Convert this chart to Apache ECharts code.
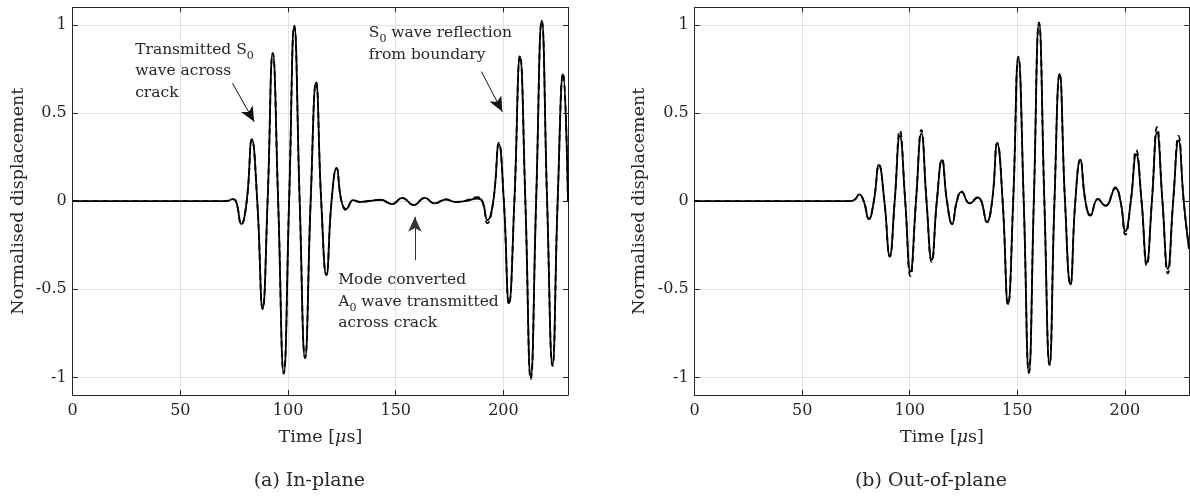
<!DOCTYPE html>
<html><head><meta charset="utf-8">
<script src="https://cdn.jsdelivr.net/npm/echarts@6/dist/echarts.min.js"></script>
<style>html,body{margin:0;padding:0;background:#fff}#c{width:1190px;height:498px}</style>
</head><body><div id="c"></div>
<script>
// ---------- data ----------
const xTicks = [0, 50, 100, 150, 200];
const yTicks = [-1, -0.5, 0, 0.5, 1];

const inPlaneTime = [0, 70, 72.5, 74.0, 75.8, 78.3, 80.8, 83.2, 85.7, 88.2, 90.5, 92.9, 95.4, 98.0, 100.5, 102.9, 105.4, 107.9, 110.5, 113.0, 115.4, 117.8, 120.2, 122.5, 124.8, 127.0, 130.2, 133.6, 137.5, 142.9, 148.4, 153.0, 158.4, 163.4, 168.1, 173.2, 177.8, 182.5, 187.9, 190.2, 192.6, 195.3, 197.9, 200.2, 202.6, 205.1, 207.7, 210.2, 212.7, 215.2, 217.8, 220.3, 222.8, 225.2, 227.7, 230];
const inPlaneSolid = [0, 0, 0.003, 0.011, 0, -0.13, 0, 0.35, 0, -0.61, 0, 0.84, 0, -0.975, 0, 0.994, 0, -0.89, 0, 0.674, 0, -0.42, 0, 0.186, 0, -0.045, 0.006, -0.004, 0, 0.008, -0.017, 0.019, -0.023, 0.019, -0.013, 0.009, -0.004, 0, 0.015, 0, -0.108, 0, 0.324, 0, -0.58, 0, 0.82, 0, -1.0, 0, 1.024, 0, -0.93, 0, 0.72, 0.0];
const inPlaneDashed = [0, 0, 0.003, 0.011, 0, -0.132, 0, 0.35, 0, -0.612, 0, 0.84, 0, -0.978, 0, 0.994, 0, -0.89, 0, 0.676, 0, -0.42, 0, 0.188, 0, -0.05, 0.004, -0.006, 0.002, 0.006, -0.015, 0.017, -0.021, 0.017, -0.012, 0.011, -0.006, 0.003, 0.022, 0, -0.125, 0, 0.33, 0, -0.585, 0, 0.825, 0, -1.01, 0, 1.024, 0, -0.935, 0, 0.725, 0.0];

const outPlaneTime = [0, 72, 74.5, 76.5, 78.6, 81.0, 83.3, 85.7, 88.2, 90.7, 93.0, 95.4, 97.9, 100.3, 102.9, 105.4, 107.8, 110.2, 112.6, 115.0, 117.3, 119.7, 121.9, 124.0, 127.9, 131.7, 133.3, 135.9, 138.3, 140.7, 143.2, 145.7, 148.1, 150.5, 153.0, 155.4, 157.7, 160.1, 162.6, 165.0, 167.3, 169.7, 172.2, 174.7, 177.0, 179.3, 181.7, 184.0, 187.5, 191.0, 195.7, 198.0, 200.3, 202.8, 205.3, 207.8, 210.2, 212.6, 215.0, 217.5, 220.0, 222.5, 225.0, 227.4, 229.7, 230];
const outPlaneSolid = [0, 0, 0.01, 0.038, 0, -0.102, 0, 0.205, 0, -0.31, 0, 0.37, 0, -0.40, 0, 0.385, 0, -0.335, 0, 0.233, 0, -0.13, 0, 0.053, -0.013, 0.02, 0, -0.118, 0, 0.328, 0, -0.585, 0, 0.816, 0, -0.973, 0, 1.013, 0, -0.928, 0, 0.722, 0, -0.473, 0, 0.233, 0, -0.08, 0.011, -0.027, 0.072, 0, -0.17, 0, 0.265, 0, -0.35, 0, 0.39, 0, -0.385, 0, 0.345, 0, -0.26, -0.27];
const outPlaneDashed = [0, 0, 0.01, 0.036, 0, -0.1, 0, 0.205, 0, -0.315, 0, 0.40, 0, -0.425, 0, 0.405, 0, -0.345, 0, 0.236, 0, -0.13, 0, 0.055, -0.012, 0.022, 0, -0.12, 0, 0.33, 0, -0.588, 0, 0.818, 0, -0.975, 0, 1.013, 0, -0.93, 0, 0.724, 0, -0.475, 0, 0.236, 0, -0.082, 0.013, -0.025, 0.078, 0, -0.19, 0, 0.29, 0, -0.365, 0, 0.42, 0, -0.41, 0, 0.37, 0, -0.25, -0.26];

const annotationsA = [
  { t: 29, v: 0.858, text: 'Transmitted S{sub|0}\nwave across\ncrack' },
  { t: 137.5, v: 0.953, text: 'S{sub|0} wave reflection\nfrom boundary' },
  { t: 123.3, v: -0.449, text: 'Mode converted\nA{sub|0} wave transmitted\nacross crack' }
];
const arrowsA = [
  { from: [74.2, 0.669], to: [84.3, 0.45], color: '#111' },
  { from: [189.8, 0.735], to: [199.5, 0.507], color: '#111' },
  { from: [158.9, -0.335], to: [158.9, -0.089], color: '#333' }
];
const captions = ['(a) In-plane', '(b) Out-of-plane'];
const xName = 'Time [{i|μ}s]';
const yName = 'Normalised displacement';

// ---------- chart ----------
const FONT = 'DejaVu Serif';
const TXT = '#262626';
const chart = echarts.init(document.getElementById('c'));
function zip(t, v) { return t.map((x, i) => [x, v[i]]); }

const grids = [
  { left: 72.7, top: 7.3, width: 495.3, height: 387.7 },
  { left: 694.7, top: 7.3, width: 494.6, height: 387.7 }
];

const xAxes = [], yAxes = [];
[0, 1].forEach(g => {
  xAxes.push({
    gridIndex: g, type: 'value', position: 'bottom', min: 0, max: 230, interval: 50,
    name: xName, nameLocation: 'middle', nameGap: 33,
    nameTextStyle: { fontFamily: FONT, fontSize: 17.5, color: TXT, rich: { i: { fontFamily: FONT, fontSize: 17.5, fontStyle: 'italic', color: TXT } } },
    axisLine: { show: true, onZero: false, lineStyle: { color: TXT, width: 1 } },
    axisTick: { show: true, inside: true, length: 5, lineStyle: { color: TXT } },
    axisLabel: { show: true, margin: 8, fontFamily: FONT, fontSize: 16, color: TXT, showMaxLabel: false },
    splitLine: { show: true, lineStyle: { color: '#e2e2e2', width: 1 } }
  });
  xAxes.push({
    gridIndex: g, type: 'value', position: 'top', min: 0, max: 230, interval: 50,
    axisLine: { show: true, onZero: false, lineStyle: { color: TXT, width: 1 } },
    axisTick: { show: true, inside: true, length: 5, lineStyle: { color: TXT } },
    axisLabel: { show: false }, splitLine: { show: false }
  });
  yAxes.push({
    gridIndex: g, type: 'value', position: 'left', min: -1.1, max: 1.1,
    name: yName, nameLocation: 'middle', nameGap: g === 0 ? 45.5 : 46.5, nameRotate: 90,
    nameTextStyle: { fontFamily: FONT, fontSize: 17.5, color: TXT },
    axisLine: { show: true, onZero: false, lineStyle: { color: TXT, width: 1 } },
    axisTick: { show: true, inside: true, length: 5, customValues: yTicks, lineStyle: { color: TXT } },
    axisLabel: { show: true, margin: 6, fontFamily: FONT, fontSize: 16, color: TXT, customValues: yTicks, formatter: v => String(v) },
    splitLine: { show: true, lineStyle: { color: '#e2e2e2', width: 1 } }
  });
  yAxes.push({
    gridIndex: g, type: 'value', position: 'right', min: -1.1, max: 1.1,
    axisLine: { show: true, onZero: false, lineStyle: { color: TXT, width: 1 } },
    axisTick: { show: true, inside: true, length: 5, customValues: yTicks, lineStyle: { color: TXT } },
    axisLabel: { show: false, customValues: yTicks }, splitLine: { show: false }
  });
});

function lineSeries(g, data, dashed, extra) {
  return Object.assign({
    type: 'line', xAxisIndex: g * 2, yAxisIndex: g * 2, data: data,
    smooth: 0.5, showSymbol: false, symbol: 'none', silent: true,
    lineStyle: { color: '#000', width: 1.8, type: dashed ? [6, 4] : 'solid' },
    z: dashed ? 3 : 4
  }, extra || {});
}

const series = [
  lineSeries(0, zip(inPlaneTime, inPlaneDashed), true),
  lineSeries(0, zip(inPlaneTime, inPlaneSolid), false, {
    markLine: {
      silent: true, animation: false,
      label: { show: false },
      data: arrowsA.map(a => [
        { coord: a.from, symbol: 'none', lineStyle: { color: a.color, width: 1, type: 'solid' } },
        { coord: a.to, symbol: 'arrow', symbolSize: [10, 15] }
      ])
    }
  }),
  lineSeries(1, zip(outPlaneTime, outPlaneDashed), true),
  lineSeries(1, zip(outPlaneTime, outPlaneSolid), false)
];

chart.setOption({
  animation: false,
  backgroundColor: '#fff',
  grid: grids,
  xAxis: xAxes,
  yAxis: yAxes,
  series: series
});

// annotations placed by data coordinates
const LH = 21.5;
const gfx = annotationsA.map(a => {
  const p = chart.convertToPixel({ gridIndex: 0 }, [a.t, a.v]);
  return {
    type: 'text', x: p[0], y: p[1] - LH / 2, silent: true, z: 50,
    style: {
      text: a.text, fill: TXT, fontFamily: FONT, fontSize: 15.5, lineHeight: LH,
      align: 'left', verticalAlign: 'top',
      rich: { sub: { fontFamily: FONT, fontSize: 11, fill: TXT, padding: [12, 0, 0, 0], lineHeight: LH } }
    }
  };
});
captions.forEach((c, i) => {
  const g = grids[i];
  gfx.push({
    type: 'text', x: g.left + g.width / 2 - 11, y: 481, silent: true,
    style: { text: c, fill: TXT, fontFamily: FONT, fontSize: 19, align: 'center', verticalAlign: 'middle' }
  });
});
chart.setOption({ graphic: gfx });
</script>
</body></html>
